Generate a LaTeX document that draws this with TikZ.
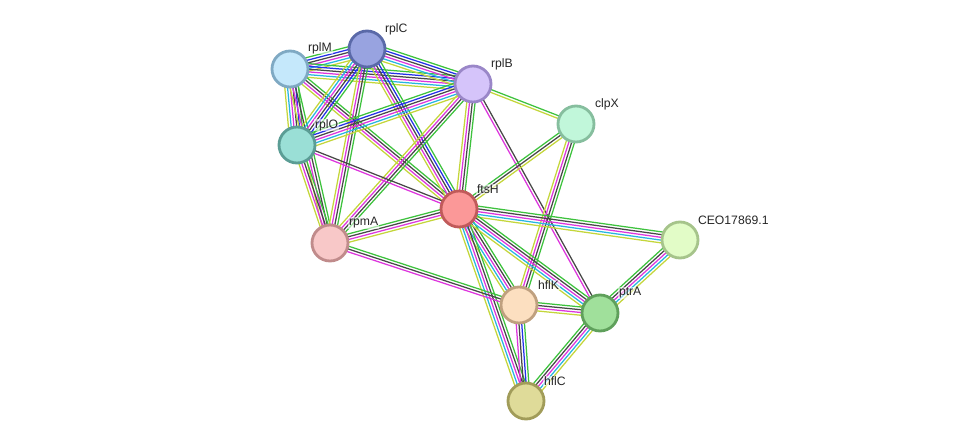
\documentclass[tikz,border=0pt]{standalone}
\usepackage{fontspec}
\setmainfont{Liberation Sans}
\usepackage{xcolor}
\usepackage{tikz}
\usetikzlibrary{calc, backgrounds}

% evidence channel colours
\definecolor{chnbh}{HTML}{3DC23D}
\definecolor{chcoo}{HTML}{2430E8}
\definecolor{chcoe}{HTML}{474747}
\definecolor{chexp}{HTML}{DD35DD}
\definecolor{chdbs}{HTML}{27B6E0}
\definecolor{chtxt}{HTML}{C4D63A}

% protein fills and rims
\definecolor{fRplM}{HTML}{C5E8FB}\definecolor{bRplM}{HTML}{7FA9C3}
\definecolor{fRplC}{HTML}{98A3E0}\definecolor{bRplC}{HTML}{5A69A8}
\definecolor{fRplB}{HTML}{D5C4FA}\definecolor{bRplB}{HTML}{9A87C8}
\definecolor{fRplO}{HTML}{9ADFD6}\definecolor{bRplO}{HTML}{5B9D95}
\definecolor{fClpX}{HTML}{C1F7DA}\definecolor{bClpX}{HTML}{86BE9E}
\definecolor{fFtsH}{HTML}{FB9898}\definecolor{bFtsH}{HTML}{C05A5A}
\definecolor{fRpmA}{HTML}{F8C8C8}\definecolor{bRpmA}{HTML}{C08B8B}
\definecolor{fCEO}{HTML}{E2FCC7}\definecolor{bCEO}{HTML}{A6C48B}
\definecolor{fHflK}{HTML}{FCDFC0}\definecolor{bHflK}{HTML}{BFA07F}
\definecolor{fPtrA}{HTML}{A0E09B}\definecolor{bPtrA}{HTML}{5FA05B}
\definecolor{fHflC}{HTML}{DFDB99}\definecolor{bHflC}{HTML}{A19C59}

\tikzset{
  lnbh/.style={draw=chnbh},
  lcoo/.style={draw=chcoo},
  lcoe/.style={draw=chcoe},
  lexp/.style={draw=chexp},
  ldbs/.style={draw=chdbs},
  ltxt/.style={draw=chtxt},
  prot/.style={circle, minimum size=36pt, inner sep=0pt, line width=2.8pt, fill=f#1, draw=b#1},
  lbl/.style={anchor=west, inner sep=0.8pt, fill=white, fill opacity=0.55, text opacity=1,
    font=\fontsize{12.2pt}{14pt}\selectfont, text=black!85}
}

% one bundle of parallel lines between two proteins
\newcommand{\bundle}[3]{%
  \gdef\nch{0}%
  \foreach \c in {#3}{\xdef\nch{\the\numexpr\nch+1\relax}}%
  \foreach \c [count=\i] in {#3}{%
    \pgfmathsetmacro\off{((\nch+1)/2-\i)*2.75}%
    \draw[\c, line width=1.25pt] ($(#1)!\off pt!90:(#2)$) -- ($(#2)!\off pt!-90:(#1)$);
  }%
}

\begin{document}
\begin{tikzpicture}[x=1pt, y=-1pt]
  \useasboundingbox (0,0) rectangle (975,447);

  % proteins
  \node[prot=RplM] (rplM) at (290,69) {};
  \node[prot=RplC] (rplC) at (367,49) {};
  \node[prot=RplB] (rplB) at (473,84) {};
  \node[prot=RplO] (rplO) at (297,145) {};
  \node[prot=ClpX] (clpX) at (576,124) {};
  \node[prot=FtsH] (ftsH) at (459,209) {};
  \node[prot=RpmA] (rpmA) at (330,243) {};
  \node[prot=CEO] (CEO) at (680,240) {};
  \node[prot=HflK] (hflK) at (519,305) {};
  \node[prot=PtrA] (ptrA) at (600,313) {};
  \node[prot=HflC] (hflC) at (526,401) {};

  % names
  \node[lbl] (rplMt) at (307,48) {rplM};
  \node[lbl] (rplCt) at (384,29) {rplC};
  \node[lbl] (rplBt) at (490,64) {rplB};
  \node[lbl] (rplOt) at (314,125) {rplO};
  \node[lbl] (clpXt) at (594,104) {clpX};
  \node[lbl] (ftsHt) at (476,189) {ftsH};
  \node[lbl] (rpmAt) at (348,223) {rpmA};
  \node[lbl] (CEOt) at (697,220) {CEO17869.1};
  \node[lbl] (hflKt) at (537,285) {hflK};
  \node[lbl] (ptrAt) at (618,293) {ptrA};
  \node[lbl] (hflCt) at (543,381) {hflC};

  % interactions
  \begin{scope}[on background layer]
    \fill[white] (0,0) rectangle (975,447);
    \bundle{rplM}{rplC}{lnbh,lcoo,lcoe,lexp,ldbs,ltxt}
    \bundle{rplM}{rplB}{lnbh,lcoo,lcoe,lexp,ldbs,ltxt}
    \bundle{rplM}{rplO}{lnbh,lcoo,lcoe,lexp,ldbs,ltxt}
    \bundle{rplM}{ftsH}{lnbh,lcoe,lexp,ltxt}
    \bundle{rplM}{rpmA}{lnbh,lcoe,lexp,ltxt}
    \bundle{rplC}{rplB}{lnbh,lcoo,lcoe,lexp,ldbs,ltxt}
    \bundle{rplC}{rplO}{lnbh,lcoo,lcoe,lexp,ldbs,ltxt}
    \bundle{rplC}{ftsH}{lnbh,lcoo,lcoe,lexp,ltxt}
    \bundle{rplC}{rpmA}{lnbh,lcoe,lexp,ltxt}
    \bundle{rplO}{rplB}{lnbh,lcoo,lcoe,lexp,ldbs,ltxt}
    \bundle{rplB}{ftsH}{lnbh,lcoe,lexp,ltxt}
    \bundle{rplB}{rpmA}{lnbh,lcoe,lexp,ltxt}
    \bundle{rplB}{clpX}{lnbh,ltxt}
    \bundle{rplB}{ptrA}{lcoe,lexp}
    \bundle{rplO}{ftsH}{lcoe,lexp}
    \bundle{rplO}{rpmA}{lnbh,lcoe,lexp,ltxt}
    \bundle{ftsH}{clpX}{lnbh,lcoe,ltxt}
    \bundle{clpX}{hflK}{lnbh,lcoe,lexp,ltxt}
    \bundle{rpmA}{ftsH}{lnbh,lcoe,lexp,ltxt}
    \bundle{ftsH}{CEO}{lnbh,lcoe,lexp,ldbs,ltxt}
    \bundle{ftsH}{hflK}{lnbh,lcoe,lexp,ldbs,ltxt}
    \bundle{ftsH}{ptrA}{lnbh,lcoe,lexp,ldbs,ltxt}
    \bundle{ftsH}{hflC}{lnbh,lcoe,lexp,ldbs,ltxt}
    \bundle{rpmA}{hflK}{lnbh,lcoe,lexp}
    \bundle{hflK}{ptrA}{lnbh,lcoe,lexp,ltxt}
    \bundle{hflK}{hflC}{lnbh,lcoo,lcoe,lexp}
    \bundle{hflC}{ptrA}{lnbh,lcoe,lexp,ldbs,ltxt}
    \bundle{ptrA}{CEO}{lnbh,lcoe,lexp,ldbs,ltxt}
  \end{scope}
\end{tikzpicture}
\end{document}
